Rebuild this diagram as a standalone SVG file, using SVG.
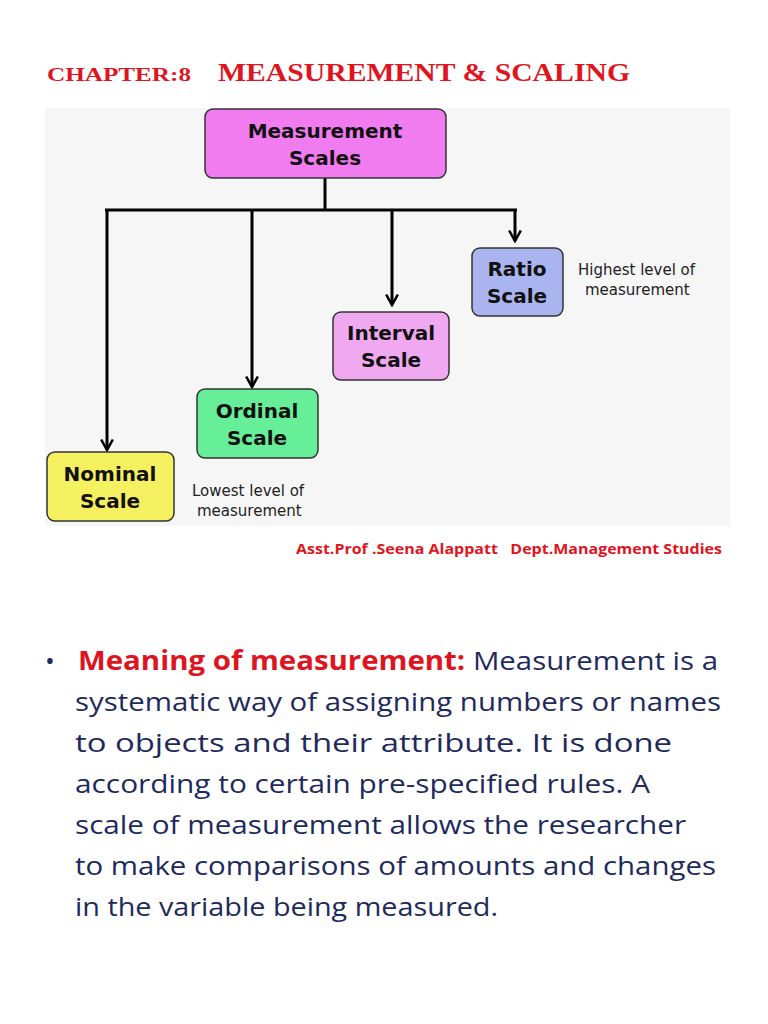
<svg xmlns="http://www.w3.org/2000/svg" width="768" height="1024" viewBox="0 0 768 1024">
<style>
.t{font-family:"Liberation Serif",serif;font-weight:bold;fill:#e0141e}
.n{stroke:#333;stroke-width:1.5}
.nl{font-family:"DejaVu Sans",sans-serif;font-weight:bold;font-size:20px;fill:#111;text-anchor:middle}
.c{stroke:#000;stroke-width:3;fill:none}
.s{font-family:"DejaVu Sans",sans-serif;font-size:15px;fill:#222}
.b{font-family:"Open Sans",sans-serif;font-size:26px;fill:#1f2a5c}
</style>
<defs><marker id="a" viewBox="0 0 12 12" refX="10" refY="6" markerWidth="14" markerHeight="14" orient="auto" markerUnits="userSpaceOnUse"><path d="M1 1 L10 6 L1 11" fill="none" stroke="#000" stroke-width="2.2"/></marker></defs>
<rect width="768" height="1024" fill="#fff"/>
<text class="t" x="47" y="81" font-size="19" textLength="144" lengthAdjust="spacingAndGlyphs">CHAPTER:8</text>
<text class="t" x="218" y="81" font-size="25" textLength="412" lengthAdjust="spacingAndGlyphs">MEASUREMENT &amp; SCALING</text>
<rect x="45" y="108" width="685" height="418" fill="#f6f6f6"/>
<g id="connectors">
<path class="c" d="M325 178 V210 M105 210 H517"/>
<path class="c" d="M107 210 V450" marker-end="url(#a)"/>
<path class="c" d="M252 210 V387" marker-end="url(#a)"/>
<path class="c" d="M392 210 V305" marker-end="url(#a)"/>
<path class="c" d="M515 210 V241" marker-end="url(#a)"/>
</g>
<g id="root"><rect class="n" x="205" y="109" width="241" height="69" rx="8" fill="#f07cf0"/><text class="nl" x="325" y="138">Measurement</text><text class="nl" x="325" y="165">Scales</text></g>
<g id="ratio"><rect class="n" x="472" y="248" width="91" height="68" rx="8" fill="#aab4ee"/><text class="nl" x="517" y="276">Ratio</text><text class="nl" x="517" y="303">Scale</text></g>
<g id="interval"><rect class="n" x="333" y="312" width="116" height="68" rx="8" fill="#f0a8f0"/><text class="nl" x="391" y="340">Interval</text><text class="nl" x="391" y="367">Scale</text></g>
<g id="ordinal"><rect class="n" x="197" y="389" width="121" height="69" rx="8" fill="#66ee99"/><text class="nl" x="257" y="418">Ordinal</text><text class="nl" x="257" y="445">Scale</text></g>
<g id="nominal"><rect class="n" x="47" y="452" width="127" height="69" rx="8" fill="#f5f060"/><text class="nl" x="110" y="481">Nominal</text><text class="nl" x="110" y="508">Scale</text></g>
<text class="s" x="578" y="275">Highest level of</text>
<text class="s" x="585" y="295">measurement</text>
<text class="s" x="192" y="496">Lowest level of</text>
<text class="s" x="197" y="516">measurement</text>
<text x="296" y="554" font-family="Open Sans,sans-serif" font-weight="bold" font-size="14" fill="#e0141e" textLength="426" lengthAdjust="spacingAndGlyphs" xml:space="preserve">Asst.Prof .Seena Alappatt   Dept.Management Studies</text>
<text class="b" x="45" y="670" fill="#1f2a5c" font-size="34">•</text>
<text class="b" x="78" y="670" textLength="640" lengthAdjust="spacingAndGlyphs"><tspan fill="#e0141e" font-weight="bold">Meaning of measurement:</tspan> Measurement is a</text>
<text class="b" x="75" y="711" textLength="646" lengthAdjust="spacingAndGlyphs">systematic way of assigning numbers or names</text>
<text class="b" x="75" y="752" textLength="597" lengthAdjust="spacingAndGlyphs">to objects and their attribute. It is done</text>
<text class="b" x="75" y="793" textLength="575" lengthAdjust="spacingAndGlyphs">according to certain pre-specified rules. A</text>
<text class="b" x="75" y="834" textLength="611" lengthAdjust="spacingAndGlyphs">scale of measurement allows the researcher</text>
<text class="b" x="75" y="875" textLength="641" lengthAdjust="spacingAndGlyphs">to make comparisons of amounts and changes</text>
<text class="b" x="75" y="916" textLength="423" lengthAdjust="spacingAndGlyphs">in the variable being measured.</text>
</svg>
